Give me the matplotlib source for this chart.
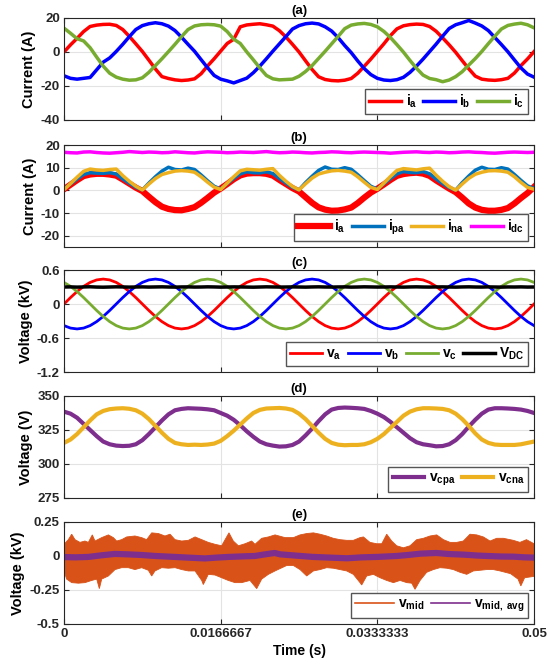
import numpy as np
import matplotlib
matplotlib.use('Agg')
import matplotlib.pyplot as plt
from matplotlib.lines import Line2D

plt.rcParams['font.family'] = ['Liberation Sans', 'DejaVu Sans']
plt.rcParams['font.weight'] = 'bold'
plt.rcParams['axes.unicode_minus'] = False
plt.rcParams['mathtext.fontset'] = 'custom'
plt.rcParams['mathtext.rm'] = 'Liberation Sans:bold'
plt.rcParams['mathtext.bf'] = 'Liberation Sans:bold'
plt.rcParams['mathtext.it'] = 'Liberation Sans:bold'

# ---- data (samples every 1/1440 s) ----
ia_a = [0.0, 4.2, 8.0, 12.0, 15.0, 15.8, 16.2, 16.3, 15.6, 13.2, 9.2, 4.8,
        0.3, -4.8, -10.0, -14.5, -15.6, -16.4, -16.8, -16.5, -15.8, -12.8, -8.2, -4.0,
        0.5, 5.0, 7.5, 14.8, 15.9, 16.3, 16.6, 16.0, 15.2, 12.5, 8.8, 4.5,
        0.0, -5.2, -10.3, -14.6, -16.2, -16.8, -17.0, -16.6, -15.6, -12.5, -8.4, -4.2,
        0.3, 4.8, 9.6, 13.6, 15.4, 16.1, 16.4, 16.2, 15.0, 12.2, 8.3, 4.2,
        -0.2, -5.1, -9.9, -14.2, -16.0, -16.5, -16.7, -16.3, -15.5, -12.4, -8.0, -4.1,
        0.2]
ib_a = [-14.0, -15.5, -16.0, -15.5, -15.0, -10.5, -6.0, -3.5, 0.3, 4.5, 9.0, 13.2,
        15.5, 16.6, 17.2, 16.6, 15.2, 12.6, 8.7, 4.5, 0.4, -4.5, -9.3, -13.8,
        -16.0, -17.0, -18.2, -16.8, -15.4, -12.2, -8.3, -4.0, 0.5, 4.8, 9.1, 13.5,
        15.5, 16.6, 17.0, 16.5, 14.8, 12.3, 8.4, 3.8, -0.4, -5.3, -9.8, -13.3,
        -15.5, -16.5, -16.8, -16.3, -14.9, -12.0, -8.3, -4.2, 0.2, 4.6, 9.3, 13.8,
        16.0, 17.2, 18.5, 17.0, 15.3, 12.6, 8.5, 4.4, 0.1, -4.7, -9.4, -13.0,
        -14.8]
ic_a = [14.0, 11.0, 7.8, 6.5, 2.5, -3.0, -8.3, -12.5, -14.8, -16.0, -16.6, -16.4,
        -15.2, -12.0, -8.0, -4.0, 0.2, 4.5, 9.0, 13.2, 15.3, 16.0, 16.2, 16.0,
        15.2, 12.0, 7.5, 5.0, 0.0, -4.6, -9.4, -13.8, -15.8, -16.4, -16.2, -16.0,
        -14.3, -11.5, -8.0, -3.8, 0.4, 4.8, 9.2, 13.7, 15.8, 16.5, 16.8, 16.2,
        14.8, 12.1, 8.5, 4.3, -0.1, -5.0, -9.6, -13.6, -15.6, -16.3, -17.5, -16.5,
        -14.5, -11.6, -7.7, -3.9, 0.3, 4.9, 9.3, 13.5, 15.6, 16.4, 16.9, 16.0,
        14.2]

ia_b = [0.5, 2.5, 4.5, 6.3, 7.0, 7.3, 7.3, 7.0, 6.5, 4.8, 3.0, 1.2,
        -0.3, -2.8, -5.2, -7.2, -8.2, -8.7, -8.8, -8.2, -7.4, -5.5, -3.3, -1.0,
        0.8, 2.8, 4.9, 6.6, 7.4, 7.6, 7.6, 7.3, 6.5, 4.6, 2.8, 1.0,
        -0.5, -3.0, -5.5, -7.5, -8.5, -9.0, -8.9, -8.4, -7.6, -5.6, -3.2, -1.0,
        0.7, 2.6, 4.6, 6.4, 7.2, 7.6, 7.8, 7.4, 6.4, 4.4, 2.6, 0.8,
        -0.8, -3.2, -5.8, -7.6, -8.6, -9.0, -9.0, -8.6, -7.8, -5.8, -3.4, -1.2,
        1.5]
ipa_b = [0.6, 2.8, 5.0, 7.0, 7.8, 7.6, 7.5, 7.8, 7.2, 5.0, 3.2, 1.4,
         0.2, 3.2, 6.0, 8.5, 10.2, 9.2, 9.0, 9.8, 9.2, 6.8, 4.2, 1.8,
         0.6, 3.0, 5.3, 7.3, 8.2, 7.8, 7.7, 8.2, 7.4, 5.2, 3.2, 1.3,
         0.2, 3.4, 6.2, 8.8, 10.3, 9.3, 9.2, 10.0, 9.3, 6.9, 4.3, 1.8,
         0.6, 2.9, 5.2, 7.3, 8.3, 7.9, 7.8, 8.3, 7.3, 5.0, 3.0, 1.2,
         0.1, 3.4, 6.3, 8.9, 10.2, 9.3, 9.2, 10.0, 9.4, 7.0, 4.4, 2.0,
         0.8]
ina_b = [0.3, 3.0, 5.8, 8.4, 9.4, 9.0, 8.8, 9.2, 9.4, 6.5, 4.0, 1.8,
         0.2, 2.8, 5.2, 7.0, 7.8, 8.5, 8.7, 8.5, 8.0, 6.0, 3.6, 1.4,
         0.4, 3.2, 6.0, 8.6, 9.3, 9.1, 8.9, 9.3, 9.6, 6.6, 4.0, 1.7,
         0.2, 2.9, 5.4, 7.2, 8.0, 8.6, 8.8, 8.5, 8.0, 6.0, 3.6, 1.3,
         0.4, 3.2, 6.1, 8.8, 9.6, 9.3, 9.0, 9.5, 9.8, 6.7, 4.0, 1.6,
         0.1, 2.8, 5.3, 7.1, 8.0, 8.6, 8.7, 8.5, 8.0, 6.0, 3.5, 1.3,
         0.5]
idc_b = [16.8, 16.6, 16.5, 16.9, 17.0, 16.7, 16.5, 16.4, 16.6, 16.8, 17.1, 16.9,
         16.7, 16.9, 16.8, 16.6, 16.7, 17.0, 16.8, 16.6, 16.5, 16.8, 17.0, 16.9,
         16.8, 16.6, 16.7, 16.9, 16.8, 16.7, 16.9, 17.1, 16.8, 16.6, 16.7, 16.9,
         16.8, 16.6, 16.5, 16.7, 16.8, 17.0, 16.9, 16.7, 16.6, 16.8, 16.9, 16.8,
         16.7, 16.6, 16.4, 16.6, 16.8, 16.9, 17.0, 16.8, 16.7, 16.9, 16.8, 16.6,
         16.7, 16.9, 17.0, 16.8, 16.7, 16.5, 16.4, 16.6, 16.8, 16.9, 16.8, 16.7,
         16.8]

va_c = [0.000, 0.114, 0.220, 0.311, 0.381, 0.425, 0.440, 0.425, 0.381, 0.311, 0.220, 0.114,
        0.000, -0.114, -0.220, -0.311, -0.381, -0.425, -0.440, -0.425, -0.381, -0.311, -0.220, -0.114,
        0.000, 0.114, 0.220, 0.311, 0.381, 0.425, 0.440, 0.425, 0.381, 0.311, 0.220, 0.114,
        0.000, -0.114, -0.220, -0.311, -0.381, -0.425, -0.440, -0.425, -0.381, -0.311, -0.220, -0.114,
        0.000, 0.114, 0.220, 0.311, 0.381, 0.425, 0.440, 0.425, 0.381, 0.311, 0.220, 0.114,
        0.000, -0.114, -0.220, -0.311, -0.381, -0.425, -0.440, -0.425, -0.381, -0.311, -0.220, -0.114,
        0.000]
vb_c = [-0.381, -0.425, -0.440, -0.425, -0.381, -0.311, -0.220, -0.114, 0.000, 0.114, 0.220, 0.311,
        0.381, 0.425, 0.440, 0.425, 0.381, 0.311, 0.220, 0.114, 0.000, -0.114, -0.220, -0.311,
        -0.381, -0.425, -0.440, -0.425, -0.381, -0.311, -0.220, -0.114, 0.000, 0.114, 0.220, 0.311,
        0.381, 0.425, 0.440, 0.425, 0.381, 0.311, 0.220, 0.114, 0.000, -0.114, -0.220, -0.311,
        -0.381, -0.425, -0.440, -0.425, -0.381, -0.311, -0.220, -0.114, 0.000, 0.114, 0.220, 0.311,
        0.381, 0.425, 0.440, 0.425, 0.381, 0.311, 0.220, 0.114, 0.000, -0.114, -0.220, -0.311,
        -0.381]
vc_c = [0.381, 0.311, 0.220, 0.114, 0.000, -0.114, -0.220, -0.311, -0.381, -0.425, -0.440, -0.425,
        -0.381, -0.311, -0.220, -0.114, 0.000, 0.114, 0.220, 0.311, 0.381, 0.425, 0.440, 0.425,
        0.381, 0.311, 0.220, 0.114, 0.000, -0.114, -0.220, -0.311, -0.381, -0.425, -0.440, -0.425,
        -0.381, -0.311, -0.220, -0.114, 0.000, 0.114, 0.220, 0.311, 0.381, 0.425, 0.440, 0.425,
        0.381, 0.311, 0.220, 0.114, 0.000, -0.114, -0.220, -0.311, -0.381, -0.425, -0.440, -0.425,
        -0.381, -0.311, -0.220, -0.114, 0.000, 0.114, 0.220, 0.311, 0.381, 0.425, 0.440, 0.425,
        0.381]
vdc_c = [0.300, 0.302, 0.298, 0.301, 0.304, 0.299, 0.297, 0.300, 0.303, 0.301, 0.298, 0.300,
         0.302, 0.299, 0.301, 0.303, 0.300, 0.298, 0.301, 0.302, 0.299, 0.300, 0.303, 0.301,
         0.298, 0.300, 0.302, 0.301, 0.299, 0.297, 0.300, 0.303, 0.301, 0.299, 0.300, 0.302,
         0.300, 0.298, 0.301, 0.303, 0.300, 0.299, 0.301, 0.302, 0.298, 0.300, 0.303, 0.301,
         0.299, 0.300, 0.302, 0.300, 0.298, 0.301, 0.303, 0.300, 0.299, 0.301, 0.302, 0.300,
         0.298, 0.301, 0.303, 0.300, 0.299, 0.302, 0.300, 0.298, 0.301, 0.300, 0.302, 0.299,
         0.300]

vcpa_d = [338.5, 337.0, 334.0, 329.5, 325.0, 320.5, 316.5, 314.5, 313.5, 313.2, 313.4, 314.5,
          317.5, 322.0, 327.0, 332.0, 336.5, 339.5, 340.5, 341.0, 340.8, 340.6, 340.2, 339.5,
          337.5, 335.5, 332.5, 328.5, 324.0, 320.0, 316.5, 314.5, 313.5, 312.8, 313.0, 314.0,
          316.5, 321.0, 326.0, 331.5, 336.5, 340.0, 341.2, 341.5, 341.3, 341.0, 340.5, 339.0,
          337.0, 334.5, 331.0, 327.0, 323.0, 319.0, 316.0, 314.5, 313.8, 313.0, 313.2, 314.5,
          317.5, 322.0, 327.5, 332.5, 337.0, 340.0, 341.0, 341.0, 340.8, 340.5, 340.0, 339.0,
          337.5]
vcna_d = [315.5, 318.0, 322.0, 327.0, 332.0, 336.5, 339.0, 340.3, 340.8, 341.0, 340.6, 339.5,
          337.0, 333.0, 328.0, 323.0, 318.5, 315.5, 314.5, 314.0, 314.2, 314.0, 314.3, 315.0,
          317.0, 320.5, 324.5, 329.0, 333.5, 337.5, 339.8, 340.8, 341.0, 341.2, 340.8, 339.8,
          337.0, 333.0, 328.0, 323.0, 318.5, 315.5, 314.2, 313.8, 314.0, 314.0, 314.5, 316.0,
          318.5, 322.0, 326.5, 331.0, 335.5, 338.5, 340.2, 341.0, 341.0, 340.8, 340.5, 339.5,
          337.0, 333.0, 328.0, 322.5, 318.0, 315.5, 314.3, 314.0, 314.0, 314.0, 314.5, 315.5,
          316.5]

# panel (e): envelope of v_mid (time in ms, kV) and its average
up_t = [0.0, 0.46, 0.82, 1.17, 1.70, 2.23, 2.59, 3.01, 3.30, 4.01, 4.72, 5.25, 5.60, 6.13,
        6.67, 7.55, 8.26, 8.79, 9.33, 10.04, 10.74, 11.28, 11.81, 12.52, 13.23, 13.94, 14.65,
        15.35, 16.06, 16.77, 17.30, 17.55, 18.01, 18.55, 19.26, 19.96, 20.32, 21.03, 21.74,
        22.45, 23.51, 24.40, 25.11, 25.82, 26.53, 27.24, 27.94, 28.65, 29.36, 30.07, 30.78,
        31.49, 31.85, 32.55, 33.26, 33.80, 34.33, 34.86, 35.39, 36.10, 36.81, 37.52, 38.23,
        38.94, 39.65, 40.36, 41.07, 41.77, 42.48, 43.19, 43.90, 44.61, 45.32, 46.03, 46.74,
        47.80, 48.50, 49.20, 50.0]
up_v = [0.086, 0.12, 0.16, 0.12, 0.10, 0.11, 0.10, 0.155, 0.11, 0.135, 0.155, 0.135, 0.11, 0.12,
        0.14, 0.147, 0.135, 0.12, 0.17, 0.165, 0.147, 0.16, 0.12, 0.11, 0.115, 0.14, 0.12,
        0.10, 0.086, 0.075, 0.14, 0.17, 0.11, 0.075, 0.09, 0.11, 0.086, 0.13, 0.14,
        0.155, 0.135, 0.135, 0.155, 0.165, 0.17, 0.16, 0.147, 0.13, 0.12, 0.115, 0.115,
        0.135, 0.14, 0.10, 0.09, 0.09, 0.16, 0.11, 0.075, 0.06, 0.075, 0.12, 0.13,
        0.147, 0.155, 0.12, 0.10, 0.10, 0.11, 0.16, 0.155, 0.14, 0.11, 0.13, 0.13,
        0.115, 0.10, 0.12, 0.09]
lo_t = [0.0, 0.28, 0.82, 1.53, 2.23, 2.94, 3.48, 3.76, 4.01, 4.72, 5.43, 6.13, 6.84, 7.55,
        8.26, 8.97, 9.33, 9.68, 10.39, 11.10, 11.81, 12.52, 13.23, 13.94, 14.65, 14.82, 15.35,
        16.06, 16.77, 17.48, 18.19, 18.90, 19.79, 20.50, 21.03, 21.74, 22.45, 23.69, 24.40,
        25.11, 25.82, 26.53, 27.24, 27.94, 28.65, 29.36, 30.07, 30.78, 31.49, 31.67, 32.20,
        32.91, 33.62, 34.33, 35.04, 35.75, 36.46, 36.99, 37.34, 37.88, 38.58, 39.29, 40.00,
        40.71, 41.42, 42.13, 42.84, 43.55, 44.26, 44.96, 45.67, 46.38, 47.50, 48.30, 48.60,
        49.00, 50.0]
lo_v = [-0.11, -0.17, -0.196, -0.20, -0.196, -0.18, -0.17, -0.24, -0.17, -0.147, -0.10, -0.086,
        -0.086, -0.10, -0.086, -0.105, -0.147, -0.11, -0.086, -0.09, -0.086, -0.10, -0.11, -0.11,
        -0.18, -0.21, -0.135, -0.14, -0.16, -0.18, -0.196, -0.196, -0.18, -0.24, -0.17, -0.135,
        -0.11, -0.07, -0.07, -0.10, -0.147, -0.11, -0.10, -0.086, -0.09, -0.10, -0.11, -0.135,
        -0.196, -0.213, -0.147, -0.135, -0.16, -0.18, -0.196, -0.18, -0.196, -0.20, -0.245,
        -0.18, -0.12, -0.10, -0.086, -0.09, -0.10, -0.12, -0.135, -0.11, -0.105, -0.10, -0.10,
        -0.11, -0.13, -0.17, -0.22, -0.16, -0.15]
avg_t = [0.0, 1.2, 2.6, 4.0, 5.4, 6.8, 8.3, 9.7, 11.5, 13.2, 15.0, 16.2, 17.5, 19.0, 20.3,
         21.4, 22.4, 23.0, 24.8, 26.5, 28.3, 30.1, 31.7, 33.3, 35.4, 36.7, 37.9, 39.6, 41.0,
         42.5, 44.0, 45.0, 46.5, 47.8, 49.0, 50.0]
avg_v = [-0.008, -0.010, -0.007, 0.005, 0.015, 0.012, 0.007, 0.0, -0.006, -0.012, -0.018,
         -0.012, -0.007, -0.003, 0.0, 0.012, 0.022, 0.012, 0.002, -0.007, -0.012, -0.017, -0.010,
         -0.007, 0.0, 0.008, 0.017, 0.022, 0.014, 0.010, 0.003, 0.0, -0.004, -0.005, -0.010,
         -0.012]

x_ticks = [0, 0.0166667, 0.0333333, 0.05]
x_ticklabels = ['0', '0.0166667', '0.0333333', '0.05']

RED, BLUE, GREEN = '#FF0000', '#0000FF', '#77AC30'
MBLUE, MYELLOW, MAGENTA = '#0072BD', '#EDB120', '#FF00FF'
PURPLE, ORANGE = '#7E2F8E', '#D95319'


def tgrid(series):
    return np.linspace(0, 0.05, len(series))


def style(ax, title, ylabel, ylim, yticks, yticklabels=None):
    ax.set_xlim(0, 0.05)
    ax.set_ylim(*ylim)
    ax.set_yticks(yticks)
    if yticklabels is not None:
        ax.set_yticklabels(yticklabels)
    ax.set_xticks(x_ticks)
    ax.set_xticklabels([])
    ax.grid(True, color='#E3E3E3', lw=0.8)
    ax.set_axisbelow(True)
    ax.tick_params(direction='in', length=3.5, width=0.8, top=True, right=True,
                   labelsize=9.5, colors='#262626', pad=3)
    for s in ax.spines.values():
        s.set_color('#262626')
        s.set_linewidth(0.8)
    ax.set_title(title, fontsize=9.5, fontweight='bold', pad=3)
    ax.set_ylabel(ylabel, fontsize=10.5, fontweight='bold', labelpad=3)


LEG = dict(loc='lower right', fontsize=10, frameon=True, fancybox=False, framealpha=1,
           edgecolor='#555555', handletextpad=0.3, columnspacing=0.45, borderpad=0.3,
           borderaxespad=0.4, labelspacing=0.2)


def legend(ax, ncol, hl=2.3):
    leg = ax.legend(ncol=ncol, handlelength=hl, **LEG)
    leg.get_frame().set_linewidth(1.0)
    return leg


fig = plt.figure(figsize=(5.48, 6.68), dpi=100)
left, width, height = 0.1168, 0.8577, 0.1527
bottoms = [0.8204, 0.6302, 0.4431, 0.2545, 0.0659]
axs = [fig.add_axes([left, b, width, height]) for b in bottoms]

# (a)
ax = axs[0]
ax.plot(tgrid(ia_a), ia_a, color=RED, lw=2.5, label=r'$\mathbf{i_a}$')
ax.plot(tgrid(ib_a), ib_a, color=BLUE, lw=2.5, label=r'$\mathbf{i_b}$')
ax.plot(tgrid(ic_a), ic_a, color=GREEN, lw=2.5, label=r'$\mathbf{i_c}$')
style(ax, '(a)', 'Current (A)', (-40, 20), [-40, -20, 0, 20])
legend(ax, 3)

# (b)
ax = axs[1]
ax.plot(tgrid(ia_b), ia_b, color=RED, lw=4.5, label=r'$\mathbf{i_a}$')
ax.plot(tgrid(ipa_b), ipa_b, color=MBLUE, lw=2.5, label=r'$\mathbf{i_{pa}}$')
ax.plot(tgrid(ina_b), ina_b, color=MYELLOW, lw=2.5, label=r'$\mathbf{i_{na}}$')
ax.plot(tgrid(idc_b), idc_b, color=MAGENTA, lw=2.5, label=r'$\mathbf{i_{dc}}$')
style(ax, '(b)', 'Current (A)', (-25, 20), [-20, -10, 0, 10, 20])
legend(ax, 4)

# (c)
ax = axs[2]
ax.plot(tgrid(va_c), va_c, color=RED, lw=2, label=r'$\mathbf{v_a}$')
ax.plot(tgrid(vb_c), vb_c, color=BLUE, lw=2, label=r'$\mathbf{v_b}$')
ax.plot(tgrid(vc_c), vc_c, color=GREEN, lw=2, label=r'$\mathbf{v_c}$')
ax.plot(tgrid(vdc_c), vdc_c, color='black', lw=2.5, label=r'$\mathbf{V_{DC}}$')
style(ax, '(c)', 'Voltage (kV)', (-1.2, 0.6), [-1.2, -0.6, 0, 0.6],
      ['-1.2', '-0.6', '0', '0.6'])
legend(ax, 4)

# (d)
ax = axs[3]
ax.plot(tgrid(vcpa_d), vcpa_d, color=PURPLE, lw=3, label=r'$\mathbf{v_{cpa}}$')
ax.plot(tgrid(vcna_d), vcna_d, color=MYELLOW, lw=3, label=r'$\mathbf{v_{cna}}$')
style(ax, '(d)', 'Voltage (V)', (275, 350), [275, 300, 325, 350])
legend(ax, 2)

# (e)
ax = axs[4]
band_t = np.concatenate([np.array(up_t), np.array(lo_t)[::-1]]) / 1000.0
band_v = np.concatenate([np.array(up_v), np.array(lo_v)[::-1]])
ax.fill(band_t, band_v, color=ORANGE, lw=0.6)
ax.plot(np.array(avg_t) / 1000.0, avg_v, color=PURPLE, lw=4.5)
style(ax, '(e)', 'Voltage (kV)', (-0.5, 0.25), [-0.5, -0.25, 0, 0.25],
      ['-0.5', '-0.25', '0', '0.25'])
ax.set_xticklabels(x_ticklabels)
ax.set_xlabel('Time (s)', fontsize=10, fontweight='bold', labelpad=3)
handles = [Line2D([], [], color=ORANGE, lw=1.2), Line2D([], [], color=PURPLE, lw=1.2)]
leg = ax.legend(handles, [r'$\mathbf{v_{mid}}$', r'$\mathbf{v_{mid,\ avg}}$'],
                ncol=2, handlelength=2.8, **LEG)
leg.get_frame().set_linewidth(1.0)

fig.savefig('out.png', dpi=100)
